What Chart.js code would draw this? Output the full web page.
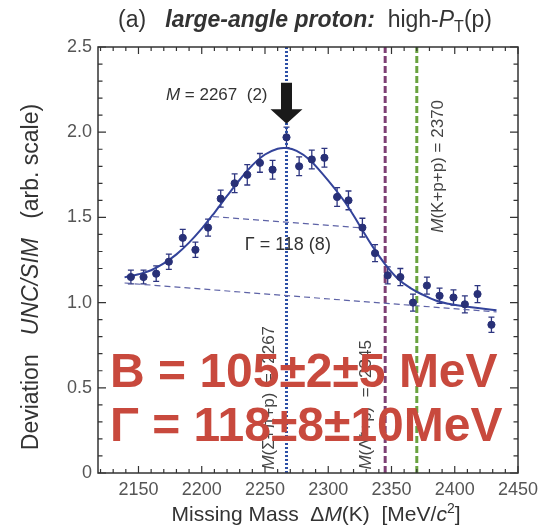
<!DOCTYPE html>
<html><head><meta charset="utf-8">
<script src="https://cdn.jsdelivr.net/npm/chart.js@4"></script>
<style>html,body{margin:0;padding:0;background:#fff}</style>
</head><body>
<canvas id="c" width="558" height="529"></canvas>
<script>
// ---- data ----
const xTicks = [2150, 2200, 2250, 2300, 2350, 2400, 2450];
const xTickLabels = ['2150', '2200', '2250', '2300', '2350', '2400', '2450'];
const yTicks = [0, 0.5, 1.0, 1.5, 2.0, 2.5];
const yTickLabels = ['0', '0.5', '1.0', '1.5', '2.0', '2.5'];

const massBins = [2144, 2154, 2164, 2174, 2185, 2195, 2205, 2215, 2226, 2236, 2246, 2256, 2267, 2277, 2287, 2297, 2307, 2316, 2327, 2337, 2347, 2357, 2367, 2378, 2388, 2399, 2408, 2418, 2429];
const deviation = [1.15, 1.15, 1.17, 1.24, 1.38, 1.31, 1.44, 1.61, 1.70, 1.75, 1.82, 1.78, 1.97, 1.80, 1.84, 1.85, 1.62, 1.60, 1.44, 1.29, 1.16, 1.15, 1.00, 1.10, 1.04, 1.03, 0.99, 1.05, 0.87];
const devError = [0.04, 0.04, 0.045, 0.045, 0.05, 0.045, 0.05, 0.05, 0.055, 0.06, 0.055, 0.055, 0.06, 0.055, 0.055, 0.055, 0.055, 0.055, 0.055, 0.05, 0.05, 0.05, 0.05, 0.05, 0.045, 0.045, 0.05, 0.05, 0.045];

const fitX = [2139, 2150, 2160, 2170, 2180, 2190, 2200, 2210, 2220, 2230, 2240, 2250, 2260, 2267, 2275, 2285, 2295, 2305, 2315, 2325, 2335, 2345, 2355, 2365, 2375, 2385, 2395, 2410, 2433];
const fitY = [1.148, 1.166, 1.19, 1.23, 1.283, 1.352, 1.434, 1.527, 1.626, 1.721, 1.806, 1.869, 1.903, 1.907, 1.89, 1.84, 1.76, 1.67, 1.57, 1.45, 1.33, 1.225, 1.14, 1.085, 1.045, 1.012, 0.993, 0.975, 0.955];

const bgX = [2139, 2433];
const bgY = [1.115, 0.945];
const fwhmX = [2209, 2327];
const fwhmY = [1.505, 1.438];

const thresholds = [2267, 2345, 2370];
const thresholdNames = ['(Σ+π+p)  =  2267', '(Λ*+p)  =  2345', '(K+p+p) = 2370'];

const peakLabel = ' = 2267  (2)';
const widthLabel = 'Γ = 118 (8)';
const resultB = 'B = 105±2±5 MeV';
const resultG = 'Γ = 118±8±10MeV';

// ---- helpers ----
const FAM = '"Liberation Sans", Arial, sans-serif';
const pts = (xs, ys) => xs.map((x, i) => ({x: x, y: ys[i]}));

function richWidth(ctx, segs) {
  let w = 0;
  for (const s of segs) { ctx.font = s.font; w += ctx.measureText(s.t).width; }
  return w;
}
function drawRich(ctx, segs, x, y, align) {
  const w = richWidth(ctx, segs);
  let cx = align === 'center' ? x - w / 2 : (align === 'right' ? x - w : x);
  ctx.textAlign = 'left';
  ctx.textBaseline = 'alphabetic';
  for (const s of segs) {
    ctx.font = s.font;
    ctx.fillText(s.t, cx, y + (s.dy || 0));
    cx += ctx.measureText(s.t).width;
  }
}

const lineColors = ['#2c4fa6', '#7d3f74', '#69a23f'];
const lineDash = [[2, 2], [7, 3], [7, 3]];

const datasets = [];
thresholds.forEach((t, i) => {
  datasets.push({
    type: 'line', data: [{x: t, y: 0}, {x: t, y: 2.5}],
    borderColor: lineColors[i], borderWidth: 3, borderDash: lineDash[i],
    pointRadius: 0, fill: false, order: 5
  });
});
datasets.push({type: 'line', data: pts(bgX, bgY), borderColor: '#5d62a6', borderWidth: 1.2, borderDash: [6, 4], pointRadius: 0, fill: false, order: 4});
datasets.push({type: 'line', data: pts(fwhmX, fwhmY), borderColor: '#5d62a6', borderWidth: 1.2, borderDash: [6, 4], pointRadius: 0, fill: false, order: 4});
datasets.push({type: 'line', data: pts(fitX, fitY), borderColor: '#33439a', borderWidth: 2, tension: 0.4, pointRadius: 0, fill: false, order: 3});
datasets.push({type: 'scatter', data: pts(massBins, deviation), backgroundColor: '#283077', borderColor: '#283077', pointRadius: 3.6, order: 1});

const decorPlugin = {
  id: 'decor',
  beforeDatasetsDraw(chart) {
    const ctx = chart.ctx, xs = chart.scales.x, ys = chart.scales.y;
    ctx.save();
    ctx.strokeStyle = '#2d3580';
    ctx.lineWidth = 1.3;
    massBins.forEach((m, i) => {
      const px = xs.getPixelForValue(m);
      const y1 = ys.getPixelForValue(deviation[i] - devError[i]);
      const y2 = ys.getPixelForValue(deviation[i] + devError[i]);
      ctx.beginPath();
      ctx.moveTo(px, y1); ctx.lineTo(px, y2);
      ctx.moveTo(px - 3, y1); ctx.lineTo(px + 3, y1);
      ctx.moveTo(px - 3, y2); ctx.lineTo(px + 3, y2);
      ctx.stroke();
    });
    ctx.restore();
  },
  afterDraw(chart) {
    const ctx = chart.ctx, xs = chart.scales.x, ys = chart.scales.y, a = chart.chartArea;
    ctx.save();
    ctx.strokeStyle = '#333';
    ctx.lineWidth = 1.5;
    ctx.strokeRect(a.left, a.top, a.right - a.left, a.bottom - a.top);
    ctx.lineWidth = 1.2;
    ctx.beginPath();
    for (let v = 2120; v <= 2450; v += 10) {
      const px = xs.getPixelForValue(v);
      const len = (v % 50 === 0) ? 7 : 4;
      ctx.moveTo(px, a.bottom); ctx.lineTo(px, a.bottom - len);
      ctx.moveTo(px, a.top); ctx.lineTo(px, a.top + len);
    }
    for (let k = 0; k <= 25; k++) {
      const py = ys.getPixelForValue(k / 10);
      const len = (k % 5 === 0) ? 8 : 4.5;
      ctx.moveTo(a.left, py); ctx.lineTo(a.left + len, py);
      ctx.moveTo(a.right, py); ctx.lineTo(a.right - len, py);
    }
    ctx.stroke();

    ctx.fillStyle = '#333';
    const f = (st, sz) => st + ' ' + sz + 'px ' + FAM;
    drawRich(ctx, [
      {t: '(a)   ', font: f('normal', 23)},
      {t: 'large-angle proton:', font: f('italic bold', 23)},
      {t: '  high-', font: f('normal', 23)},
      {t: 'P', font: f('italic', 23)},
      {t: 'T', font: f('normal', 16), dy: 5},
      {t: '(p)', font: f('normal', 23)}
    ], 305, 27, 'center');

    drawRich(ctx, [
      {t: 'Missing Mass  Δ', font: f('normal', 21)},
      {t: 'M', font: f('italic', 21)},
      {t: '(K)  [MeV/', font: f('normal', 21)},
      {t: 'c', font: f('italic', 21)},
      {t: '2', font: f('normal', 14), dy: -8},
      {t: ']', font: f('normal', 21)}
    ], (a.left + a.right) / 2 + 8, 521, 'center');

    ctx.save();
    ctx.translate(38, 277);
    ctx.rotate(-Math.PI / 2);
    drawRich(ctx, [
      {t: 'Deviation   ', font: f('normal', 23)},
      {t: 'UNC/SIM', font: f('italic', 23)},
      {t: '   (arb. scale)', font: f('normal', 23)}
    ], 0, 0, 'center');
    ctx.restore();

    const offs = [-12, -14, 26];
    const startVals = [0.02, 0.02, 1.41];
    thresholds.forEach((t, i) => {
      ctx.save();
      ctx.fillStyle = '#444';
      ctx.translate(xs.getPixelForValue(t) + offs[i], ys.getPixelForValue(startVals[i]));
      ctx.rotate(-Math.PI / 2);
      drawRich(ctx, [
        {t: 'M', font: f('italic', 17)},
        {t: thresholdNames[i], font: f('normal', 17)}
      ], 0, 0, 'left');
      ctx.restore();
    });

    ctx.fillStyle = '#333';
    drawRich(ctx, [
      {t: 'M', font: f('italic', 17)},
      {t: peakLabel, font: f('normal', 17)}
    ], xs.getPixelForValue(2267) - 19, ys.getPixelForValue(2.19), 'right');
    const cx = xs.getPixelForValue(2267);
    const yTop = ys.getPixelForValue(2.29);
    const yHead = ys.getPixelForValue(2.135);
    const yTip = ys.getPixelForValue(2.05);
    ctx.fillStyle = '#1a1a1a';
    ctx.beginPath();
    ctx.moveTo(cx - 5.5, yTop); ctx.lineTo(cx + 5.5, yTop);
    ctx.lineTo(cx + 5.5, yHead); ctx.lineTo(cx + 16, yHead);
    ctx.lineTo(cx, yTip); ctx.lineTo(cx - 16, yHead);
    ctx.lineTo(cx - 5.5, yHead); ctx.closePath();
    ctx.fill();

    ctx.fillStyle = '#333';
    ctx.font = f('normal', 18);
    ctx.textAlign = 'left';
    ctx.fillText(widthLabel, xs.getPixelForValue(2234), ys.getPixelForValue(1.31));

    ctx.fillStyle = '#c8493d';
    ctx.font = 'bold 48px ' + FAM;
    ctx.textAlign = 'left';
    ctx.fillText(resultB, xs.getPixelForValue(2127.5), ys.getPixelForValue(0.505));
    ctx.fillText(resultG, xs.getPixelForValue(2127.5), ys.getPixelForValue(0.185));
    ctx.restore();
  }
};

new Chart(document.getElementById('c'), {
  type: 'scatter',
  data: {datasets: datasets},
  options: {
    responsive: false,
    animation: false,
    layout: {padding: {top: 47, right: 40, left: 0, bottom: 0}},
    plugins: {legend: {display: false}, tooltip: {enabled: false}, title: {display: false}},
    scales: {
      x: {
        type: 'linear', min: 2118, max: 2450,
        afterBuildTicks: s => { s.ticks = xTicks.map(v => ({value: v})); },
        afterFit: s => { s.height = 56; },
        grid: {display: false, drawTicks: false},
        border: {display: false},
        ticks: {font: {size: 18, family: FAM}, color: '#555', padding: 6, maxRotation: 0, autoSkip: false,
          callback: v => xTickLabels[xTicks.indexOf(v)]}
      },
      y: {
        type: 'linear', min: 0, max: 2.5,
        afterBuildTicks: s => { s.ticks = yTicks.map(v => ({value: v})); },
        afterFit: s => { s.width = 98; },
        grid: {display: false, drawTicks: false},
        border: {display: false},
        ticks: {font: {size: 18, family: FAM}, color: '#555', padding: 6, autoSkip: false,
          callback: v => yTickLabels[yTicks.indexOf(v)]}
      }
    }
  },
  plugins: [decorPlugin]
});
</script>
</body></html>
